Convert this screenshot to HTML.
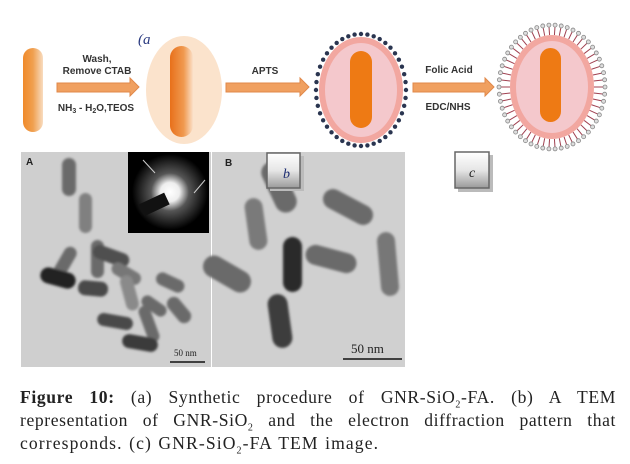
<!DOCTYPE html>
<html><head><meta charset="utf-8"><style>
html,body{margin:0;padding:0;background:#fff;width:630px;height:464px;overflow:hidden}
.cap{position:absolute;left:20px;top:386px;width:596px;font-family:"Liberation Serif",serif;font-size:17.6px;line-height:23px;color:#222;letter-spacing:0.6px}
.cap div{text-align:justify;text-align-last:justify;white-space:nowrap}
.cap div.last{text-align-last:left;letter-spacing:1.1px;word-spacing:1px}
.cap sub{font-size:10px;line-height:0}
</style></head><body>
<svg id="s" width="630" height="464" style="position:absolute;left:0;top:0" font-family="Liberation Sans, sans-serif">
<defs>
<linearGradient id="rodg" x1="0" x2="1"><stop offset="0" stop-color="#f08a2a"/><stop offset="0.5" stop-color="#f0a050"/><stop offset="1" stop-color="#f8dcc0"/></linearGradient>
<linearGradient id="rodg2" x1="0" x2="1"><stop offset="0" stop-color="#e8701a"/><stop offset="0.6" stop-color="#f09a50"/><stop offset="1" stop-color="#fbe0c8"/></linearGradient>
<linearGradient id="box" x1="0" y1="0" x2="0" y2="1"><stop offset="0" stop-color="#fff"/><stop offset="0.5" stop-color="#e6e6e6"/><stop offset="1" stop-color="#9a9a9a"/></linearGradient>
<radialGradient id="glow"><stop offset="0" stop-color="#fff"/><stop offset="0.25" stop-color="#eee"/><stop offset="0.5" stop-color="#555"/><stop offset="1" stop-color="#000"/></radialGradient>
<filter id="bl"><feGaussianBlur stdDeviation="1.2"/></filter>
</defs>
<rect x="23" y="48" width="20" height="84" rx="10" fill="url(#rodg)"/>
<polygon points="57,83 130,83 130,78 139,87 130,96 130,92 57,92" fill="#f0a060" stroke="#e0884a"/>
<text x="97" y="62" font-size="10" font-weight="bold" text-anchor="middle" fill="#333">Wash,</text>
<text x="97" y="74" font-size="10" font-weight="bold" text-anchor="middle" fill="#333">Remove CTAB</text>
<text x="96" y="111" font-size="10" font-weight="bold" text-anchor="middle" fill="#333">NH<tspan font-size="7" dy="2">3</tspan><tspan dy="-2"> - H</tspan><tspan font-size="7" dy="2">2</tspan><tspan dy="-2">O,TEOS</tspan></text>
<text x="138" y="44" font-size="15" font-style="italic" fill="#2a3a80" font-family="Liberation Serif, serif">(a</text>
<ellipse cx="184" cy="90" rx="38" ry="54" fill="#fbe3cc"/>
<rect x="170" y="46" width="23" height="91" rx="11.5" fill="url(#rodg2)"/>
<polygon points="226,83 300,83 300,78 309,87 300,96 300,92 226,92" fill="#f0a060" stroke="#e0884a"/>
<text x="265" y="74" font-size="10" font-weight="bold" text-anchor="middle" fill="#333">APTS</text>
<g id="e3"></g>
<ellipse cx="361" cy="90" rx="42" ry="53" fill="#f2a7a0"/>
<ellipse cx="361" cy="90" rx="36" ry="47" fill="#f4c8cc"/>
<rect x="350" y="51" width="22" height="77" rx="11" fill="#ee7a14"/>
<polygon points="413,83 485,83 485,78 494,87 485,96 485,92 413,92" fill="#f0a060" stroke="#e0884a"/>
<text x="449" y="73" font-size="10" font-weight="bold" text-anchor="middle" fill="#333">Folic Acid</text>
<text x="448" y="110" font-size="10" font-weight="bold" text-anchor="middle" fill="#333">EDC/NHS</text>
<g id="e4"></g>
<ellipse cx="552" cy="87" rx="42" ry="52" fill="#f2a7a0"/>
<ellipse cx="552" cy="87" rx="36" ry="46" fill="#f4c8cc"/>
<rect x="540" y="48" width="21" height="74" rx="10.5" fill="#ee7a14"/>
<rect x="21" y="152" width="190" height="215" fill="#cfcfcf"/>
<g fill="#6a6a6a" filter="url(#bl)">
<rect x="62" y="158" width="14" height="38" rx="7"/>
<rect x="79" y="193" width="13" height="40" rx="6.5" fill="#808080"/>
<rect x="58" y="245" width="13" height="36" rx="6.5" transform="rotate(30 64 263)"/>
<rect x="91" y="240" width="13" height="38" rx="6.5"/>
<rect x="104" y="237" width="14" height="38" rx="7" transform="rotate(-70 111 256)" fill="#505050"/>
<rect x="50" y="260" width="16" height="36" rx="8" transform="rotate(-75 58 278)" fill="#222"/>
<rect x="86" y="274" width="15" height="30" rx="7" transform="rotate(-85 93 289)" fill="#4a4a4a"/>
<rect x="120" y="258" width="13" height="32" rx="6.5" transform="rotate(-60 126 274)" fill="#777"/>
<rect x="123" y="275" width="13" height="36" rx="6.5" transform="rotate(-15 129 293)" fill="#8a8a8a"/>
<rect x="164" y="268" width="13" height="30" rx="6.5" transform="rotate(-65 170 283)"/>
<rect x="148" y="292" width="12" height="28" rx="6" transform="rotate(-55 154 306)"/>
<rect x="172" y="295" width="14" height="30" rx="7" transform="rotate(-40 179 310)"/>
<rect x="143" y="305" width="12" height="38" rx="6" transform="rotate(-20 149 324)"/>
<rect x="109" y="304" width="13" height="36" rx="6.5" transform="rotate(-80 115 322)" fill="#4a4a4a"/>
<rect x="133" y="325" width="14" height="36" rx="7" transform="rotate(-80 140 343)" fill="#3a3a3a"/>
</g>
<rect x="128" y="152" width="81" height="81" fill="#000"/>
<circle cx="170" cy="192" r="38" fill="url(#glow)"/>
<rect x="140" y="198" width="28" height="13" fill="#111" transform="rotate(-25 154 204)"/>
<line x1="143" y1="160" x2="155" y2="173" stroke="#ccc"/>
<line x1="205" y1="180" x2="194" y2="193" stroke="#ccc"/>
<text x="26" y="165" font-size="10" font-weight="bold" fill="#222">A</text>
<line x1="170" y1="362" x2="205" y2="362" stroke="#111" stroke-width="1.5"/>
<text x="174" y="356" font-size="9" fill="#222" font-family="Liberation Serif, serif">50 nm</text>
<rect x="212" y="152" width="193" height="215" fill="#d0d0d0"/>
<g fill="#6a6a6a" filter="url(#bl)">
<rect x="268" y="160" width="22" height="54" rx="11" transform="rotate(-25 279 187)"/>
<rect x="247" y="198" width="18" height="52" rx="9" transform="rotate(-8 256 224)" fill="#7a7a7a"/>
<rect x="216" y="248" width="22" height="52" rx="11" transform="rotate(-60 227 274)"/>
<rect x="283" y="237" width="19" height="55" rx="9.5" fill="#2a2a2a"/>
<rect x="270" y="294" width="20" height="54" rx="10" transform="rotate(-8 280 321)" fill="#3e3e3e"/>
<rect x="338" y="180" width="20" height="54" rx="10" transform="rotate(-62 348 207)"/>
<rect x="321" y="233" width="20" height="52" rx="10" transform="rotate(-75 331 259)"/>
<rect x="379" y="232" width="18" height="64" rx="9" transform="rotate(-5 388 264)" fill="#777"/>
</g>
<text x="225" y="166" font-size="10" font-weight="bold" fill="#222">B</text>
<line x1="343" y1="359" x2="402" y2="359" stroke="#111" stroke-width="1.5"/>
<text x="351" y="353" font-size="13" fill="#222" font-family="Liberation Serif, serif">50 nm</text>
<rect x="270" y="156" width="34" height="35" fill="#bbb"/>
<rect x="267" y="153" width="33" height="35" fill="url(#box)" stroke="#666" stroke-width="1.5"/>
<text x="283" y="178" font-size="14" font-style="italic" fill="#1a2a70" font-family="Liberation Serif, serif">b</text>
<rect x="458" y="155" width="35" height="37" fill="#bbb"/>
<rect x="455" y="152" width="34" height="36" fill="url(#box)" stroke="#666" stroke-width="1.5"/>
<text x="469" y="177" font-size="14" font-style="italic" fill="#222" font-family="Liberation Serif, serif">c</text>
</svg>
<div class="cap">
<div><b>Figure 10:</b> (a) Synthetic procedure of GNR-SiO<sub>2</sub>-FA. (b) A TEM</div>
<div>representation of GNR-SiO<sub>2</sub> and the electron diffraction pattern that</div>
<div class="last">corresponds. (c) GNR-SiO<sub>2</sub>-FA TEM image.</div>
</div>
<script>
var NS="http://www.w3.org/2000/svg";
function el(t,a,p){var e=document.createElementNS(NS,t);for(var k in a)e.setAttribute(k,a[k]);p.appendChild(e);return e;}
var g3=document.getElementById("e3");
for(var i=0;i<44;i++){var t=i/44*2*Math.PI;var x=361+45*Math.cos(t),y=90+56*Math.sin(t);
el("circle",{cx:x,cy:y,r:2.2,fill:"#2a3550"},g3);}
var g4=document.getElementById("e4");
for(var i=0;i<54;i++){var t=i/54*2*Math.PI;var c=Math.cos(t),s=Math.sin(t);
var x1=552+42*c,y1=87+52*s,x2=552+53*c,y2=87+62*s;
el("line",{x1:x1,y1:y1,x2:x2,y2:y2,stroke:"#a04050","stroke-width":1},g4);
el("circle",{cx:x2,cy:y2,r:2,fill:"#ddd",stroke:"#888","stroke-width":0.8},g4);}
</script>
</body></html>
